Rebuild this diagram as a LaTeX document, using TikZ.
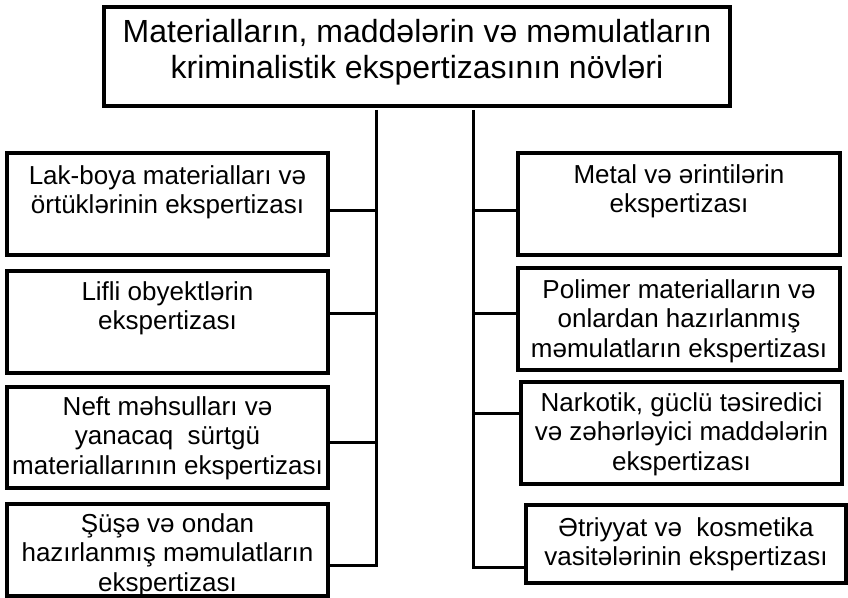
\documentclass[tikz,border=0pt]{standalone}
\usepackage{fontspec}
\setmainfont{Liberation Sans}
\newcommand{\bxt}[4]{\parbox[c][#1pt][t]{#2pt}{\centering\rule{0pt}{#3pt}#4\par}}
\tikzset{
  box/.style={draw=black, line width=3.5pt, inner sep=0pt, fill=white, font=\fontsize{26}{29.5}\selectfont},
  topbox/.style={box, font=\fontsize{32}{36}\selectfont},
  conn/.style={draw=black, line width=3pt, line join=miter}
}
\begin{document}
\begin{tikzpicture}[x=1pt,y=-1pt]
\useasboundingbox (0,0) rectangle (848,597);
\node[topbox, minimum width=626pt, minimum height=99pt] (top) at (417,56.5)
  {\bxt{99}{620}{35}{Materialların, maddələrin və məmulatların\\kriminalistik ekspertizasının növləri}};
% left boxes
\node[box, minimum width=321pt, minimum height=102pt] (lak) at (167.5,204)
  {\bxt{102}{318}{31}{Lak-boya materialları və\\örtüklərinin ekspertizası}};
\node[box, minimum width=321pt, minimum height=102pt] (lif) at (167.5,322)
  {\bxt{102}{318}{29}{Lifli obyektlərin\\ekspertizası}};
\node[box, minimum width=321pt, minimum height=101pt] (neft) at (167.5,437.5)
  {\bxt{101}{318}{28}{Neft məhsulları və\\yanacaq\ \ sürtgü\\materiallarının ekspertizası}};
\node[box, minimum width=321pt, minimum height=92pt] (sus) at (167.5,550)
  {\bxt{92}{318}{28}{Şüşə və ondan\\hazırlanmış məmulatların\\ekspertizası}};
% right boxes
\node[box, minimum width=322pt, minimum height=102pt] (met) at (679,204)
  {\bxt{102}{318}{30}{Metal və ərintilərin\\ekspertizası}};
\node[box, minimum width=322pt, minimum height=102pt] (pol) at (679,319)
  {\bxt{102}{318}{30}{Polimer materialların və\\onlardan hazırlanmış\\məmulatların ekspertizası}};
\node[box, minimum width=321pt, minimum height=102pt] (nar) at (681.5,433)
  {\bxt{102}{318}{29}{Narkotik, güclü təsiredici\\və zəhərləyici maddələrin\\ekspertizası}};
\node[box, minimum width=320pt, minimum height=78pt] (etr) at (686,544)
  {\bxt{78}{318}{31}{Ətriyyat və\ \ kosmetika\\vasitələrinin ekspertizası}};
% spines
\coordinate (L1) at (376,210);
\coordinate (L2) at (376,313);
\coordinate (L3) at (376,442);
\coordinate (L4) at (376,565);
\coordinate (R1) at (473,210);
\coordinate (R2) at (473,313);
\coordinate (R3) at (473,413);
\coordinate (R4) at (473,567);
\draw[conn] ([yshift=-2pt]top.south -| L4) -- (L4) -- (sus.east |- L4);
\draw[conn] ([yshift=-2pt]top.south -| R4) -- (R4) -- (etr.west |- R4);
\draw[conn] (lak.east |- L1) -- (L1);
\draw[conn] (lif.east |- L2) -- (L2);
\draw[conn] (neft.east |- L3) -- (L3);
\draw[conn] (met.west |- R1) -- (R1);
\draw[conn] (pol.west |- R2) -- (R2);
\draw[conn] (nar.west |- R3) -- (R3);
\end{tikzpicture}
\end{document}
